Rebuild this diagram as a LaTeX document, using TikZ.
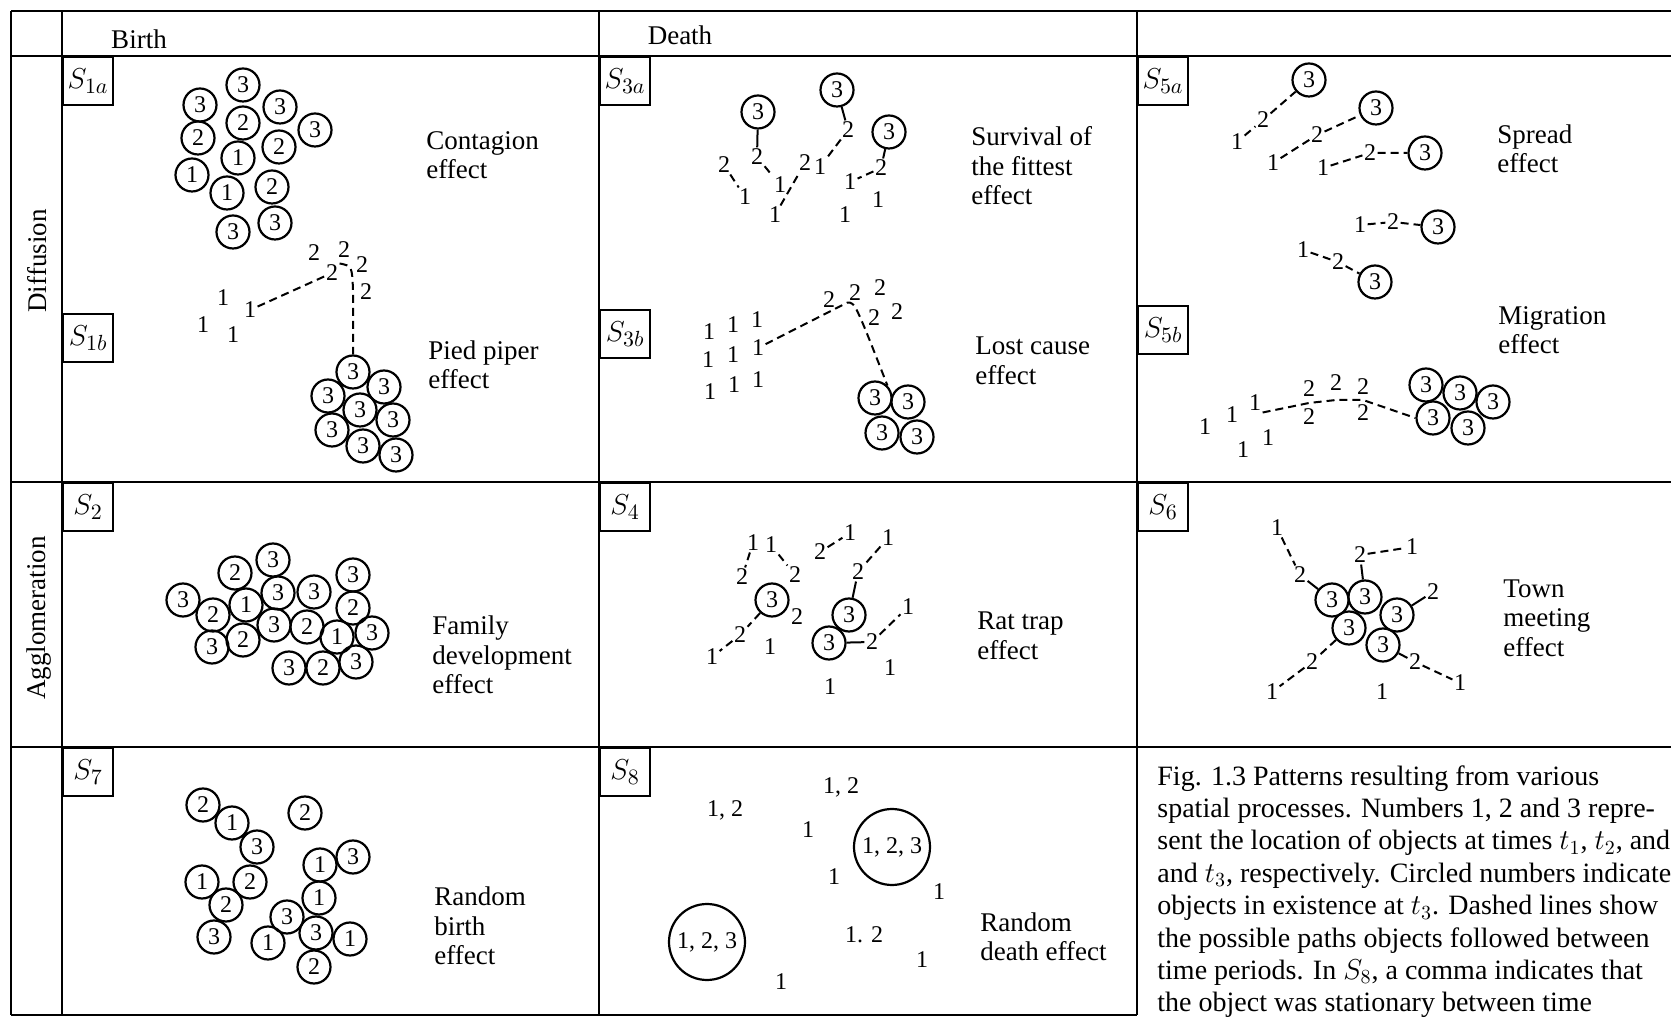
\documentclass[tikz,border=0pt]{standalone}
\usepackage{fontspec}
\setmainfont{Liberation Serif}
\usepackage{tikz}
\usetikzlibrary{shapes,arrows}
\tikzset{>={stealth}}
\tikzset{
    tablerule/.style={line width=1.3pt},
    num/.style={inner sep=0.6pt,font=\fontsize{12}{12}\selectfont},
    ring/.style={num,circle,draw,line width=1.1pt,minimum size=16.5pt,inner sep=0pt},
    bigring/.style={num,circle,draw,line width=1.1pt,minimum size=38pt,inner sep=0pt},
    tag/.style={draw,line width=1.1pt,anchor=north west,minimum width=25pt,minimum height=24pt,inner sep=0pt,font=\fontsize{15}{15}\selectfont},
    lab/.style={anchor=west,align=left,inner sep=0pt,font=\fontsize{13.5}{14.75}\selectfont},
    head/.style={font=\fontsize{13.5}{14}\selectfont},
    trail/.style={line width=1pt,dash pattern=on 4pt off 2.5pt},
    link/.style={line width=1pt},
}

\begin{document}
\begin{tikzpicture}[x=0.5pt,y=-0.5pt]
                    \useasboundingbox (0,0) rectangle (1671,1020);
                    \draw[tablerule] (11,11) -- (1671,11);
                    \draw[tablerule] (11,56) -- (1671,56);
                    \draw[tablerule] (11,482) -- (1671,482);
                    \draw[tablerule] (11,747) -- (1671,747);
                    \draw[tablerule] (11,1015) -- (1137,1015);
                    \draw[tablerule] (11,11) -- (11,1015);
                    \draw[tablerule] (62,11) -- (62,1015);
                    \draw[tablerule] (599,11) -- (599,1015);
                    \draw[tablerule] (1137,11) -- (1137,1015);
                    \node[head] (birth) at (139,39) {Birth};
                    \node[head] (death) at (680,35) {Death};
                    \node[head,rotate=90] (diffusion) at (37,261) {Diffusion};
                    \node[head,rotate=90] (agglom) at (39,618) {Agglomeration};

                    \node[tag] (tag1a) at (62,56) {$S_{1a}$};
                    \node[ring] (ca1) at (243,85) {3};
                    \node[ring] (ca2) at (200,105) {3};
                    \node[ring] (ca3) at (280,107) {3};
                    \node[ring] (ca4) at (243,123) {2};
                    \node[ring] (ca5) at (315,130) {3};
                    \node[ring] (ca6) at (198,138) {2};
                    \node[ring] (ca7) at (279,147) {2};
                    \node[ring] (ca8) at (238,158) {1};
                    \node[ring] (ca9) at (192,175) {1};
                    \node[ring] (ca10) at (227,193) {1};
                    \node[ring] (ca11) at (272,187) {2};
                    \node[ring] (ca12) at (275,223) {3};
                    \node[ring] (ca13) at (233,232) {3};
                    \node[lab] (contagion) at (426,155) {Contagion\\effect};

                    \node[tag] (tag1b) at (62,313) {$S_{1b}$};
                    \node[num] (bt1) at (314,253) {2};
                    \node[num] (bt2) at (344,250) {2};
                    \node[num] (bt3) at (362,265) {2};
                    \node[num] (bt4) at (332,273) {2};
                    \node[num] (bt5) at (366,292) {2};
                    \node[num] (bo1) at (223,298) {1};
                    \node[num] (bo2) at (250,310) {1};
                    \node[num] (bo3) at (203,325) {1};
                    \node[num] (bo4) at (233,335) {1};
                    \node[ring] (br1) at (353,372) {3};
                    \node[ring] (br2) at (384,387) {3};
                    \node[ring] (br3) at (328,396) {3};
                    \node[ring] (br4) at (360,410) {3};
                    \node[ring] (br5) at (393,420) {3};
                    \node[ring] (br6) at (332,430) {3};
                    \node[ring] (br7) at (363,446) {3};
                    \node[ring] (br8) at (396,455) {3};
                    \draw[trail] (bo2) -- (bt4);
                    \draw[trail] (bt4.north east) .. controls (352,266) .. (353,290) -- (br1);
                    \node[lab] (piper) at (428,365) {Pied piper\\effect};

                    \node[tag] (tag3a) at (599,56) {$S_{3a}$};
                    \node[ring] (cr1) at (758,112) {3};
                    \node[ring] (cr2) at (837,90) {3};
                    \node[ring] (cr3) at (889,132) {3};
                    \node[num] (ct1) at (757,157) {2};
                    \node[num] (ct2) at (724,165) {2};
                    \node[num] (ct3) at (745,197) {1};
                    \node[num] (ct4) at (780,185) {1};
                    \node[num] (ct5) at (775,215) {1};
                    \node[num] (ct6) at (805,163) {2};
                    \node[num] (ct7) at (820,167) {1};
                    \node[num] (ct8) at (848,130) {2};
                    \node[num] (ct9) at (850,182) {1};
                    \node[num] (ct10) at (881,168) {2};
                    \node[num] (ct11) at (878,200) {1};
                    \node[num] (ct12) at (845,215) {1};
                    \draw[link] (cr1) -- (ct1);
                    \draw[trail] (ct2) -- (ct3);
                    \draw[trail] (ct1) -- (ct4);
                    \draw[trail] (ct5) -- (ct6);
                    \draw[link] (cr2) -- (ct8);
                    \draw[trail] (ct8) -- (ct7);
                    \draw[link] (cr3) -- (ct10);
                    \draw[trail] (ct10) -- (ct9);
                    \node[lab] (survival) at (971,166) {Survival of\\the fittest\\effect};

                    \node[tag] (tag3b) at (599,309) {$S_{3b}$};
                    \node[num] (do1) at (709,332) {1};
                    \node[num] (do2) at (708,360) {1};
                    \node[num] (do3) at (710,392) {1};
                    \node[num] (do4) at (733,325) {1};
                    \node[num] (do5) at (733,355) {1};
                    \node[num] (do6) at (734,385) {1};
                    \node[num] (do7) at (757,320) {1};
                    \node[num] (do8) at (758,348) {1};
                    \node[num] (do9) at (758,380) {1};
                    \node[num] (dt1) at (829,300) {2};
                    \node[num] (dt2) at (855,293) {2};
                    \node[num] (dt3) at (880,288) {2};
                    \node[num] (dt4) at (874,318) {2};
                    \node[num] (dt5) at (897,312) {2};
                    \node[ring] (dr1) at (875,398) {3};
                    \node[ring] (dr2) at (908,402) {3};
                    \node[ring] (dr3) at (882,433) {3};
                    \node[ring] (dr4) at (917,437) {3};
                    \draw[trail] (do8) -- (dt2.south west) .. controls (dt2.south) .. (dr1.north east);
                    \node[lab] (lost) at (975,361) {Lost cause\\effect};

                    \node[tag] (tag5a) at (1137,56) {$S_{5a}$};
                    \node[ring] (er1) at (1309,80) {3};
                    \node[ring] (er2) at (1376,108) {3};
                    \node[ring] (er3) at (1425,153) {3};
                    \node[ring] (er4) at (1438,227) {3};
                    \node[ring] (er5) at (1375,282) {3};
                    \node[num] (et1) at (1263,120) {2};
                    \node[num] (et2) at (1317,135) {2};
                    \node[num] (et3) at (1370,153) {2};
                    \node[num] (et4) at (1393,222) {2};
                    \node[num] (et5) at (1338,262) {2};
                    \node[num] (eo1) at (1237,142) {1};
                    \node[num] (eo2) at (1273,163) {1};
                    \node[num] (eo3) at (1323,168) {1};
                    \node[num] (eo4) at (1360,225) {1};
                    \node[num] (eo5) at (1303,250) {1};
                    \foreach \i in {1,...,5}
                        \draw[trail] (eo\i) -- (et\i) -- (er\i);
                    \node[lab] (spread) at (1497,149) {Spread\\effect};
                    \node[lab] (migration) at (1498,330) {Migration\\effect};

                    \node[tag] (tag5b) at (1137,305) {$S_{5b}$};
                    \node[num] (fo1) at (1205,427) {1};
                    \node[num] (fo2) at (1232,415) {1};
                    \node[num] (fo3) at (1255,403) {1};
                    \node[num] (fo4) at (1243,450) {1};
                    \node[num] (fo5) at (1268,438) {1};
                    \node[num] (ft1) at (1309,389) {2};
                    \node[num] (ft2) at (1309,417) {2};
                    \node[num] (ft3) at (1336,383) {2};
                    \node[num] (ft4) at (1363,387) {2};
                    \node[num] (ft5) at (1363,413) {2};
                    \node[ring] (fr1) at (1426,385) {3};
                    \node[ring] (fr2) at (1460,393) {3};
                    \node[ring] (fr3) at (1493,402) {3};
                    \node[ring] (fr4) at (1433,418) {3};
                    \node[ring] (fr5) at (1468,428) {3};
                    \coordinate (fm1) at (1309,403);
                    \coordinate (fm2) at (1336,400);
                    \coordinate (fm3) at (1363,400);
                    \draw[trail] (fo3.south east) -- (fm1) -- (fm2) -- (fm3) -- (fr4.west);

                    \node[tag] (tag2) at (62,482) {$S_2$};
                    \node[ring] (g1) at (235,573) {2};
                    \node[ring] (g2) at (273,560) {3};
                    \node[ring] (g3) at (183,600) {3};
                    \node[ring] (g4) at (213,615) {2};
                    \node[ring] (g5) at (246,605) {1};
                    \node[ring] (g6) at (278,593) {3};
                    \node[ring] (g7) at (314,592) {3};
                    \node[ring] (g8) at (353,575) {3};
                    \node[ring] (g9) at (353,608) {2};
                    \node[ring] (g10) at (274,625) {3};
                    \node[ring] (g11) at (307,627) {2};
                    \node[ring] (g12) at (337,637) {1};
                    \node[ring] (g13) at (372,633) {3};
                    \node[ring] (g14) at (212,647) {3};
                    \node[ring] (g15) at (243,640) {2};
                    \node[ring] (g16) at (289,668) {3};
                    \node[ring] (g17) at (323,668) {2};
                    \node[ring] (g18) at (356,662) {3};
                    \node[lab] (family) at (432,655) {Family\\development\\effect};

                    \node[tag] (tag4) at (599,482) {$S_4$};
                    \node[num] (h1) at (753,543) {1};
                    \node[num] (h2) at (771,545) {1};
                    \node[num] (h3) at (742,577) {2};
                    \node[num] (h4) at (795,575) {2};
                    \node[ring] (hr1) at (772,600) {3};
                    \node[num] (h5) at (797,617) {2};
                    \node[num] (h6) at (740,635) {2};
                    \node[num] (h7) at (712,657) {1};
                    \node[num] (h8) at (770,647) {1};
                    \node[num] (h9) at (820,552) {2};
                    \node[num] (h10) at (850,533) {1};
                    \node[num] (h11) at (888,538) {1};
                    \node[num] (h12) at (858,572) {2};
                    \node[ring] (hr2) at (849,615) {3};
                    \node[ring] (hr3) at (829,643) {3};
                    \node[num] (h13) at (872,642) {2};
                    \node[num] (h14) at (908,607) {1};
                    \node[num] (h15) at (890,668) {1};
                    \node[num] (h16) at (830,687) {1};
                    \draw[trail] (h1) -- (h3);
                    \draw[trail] (h2) -- (h4);
                    \draw[trail] (hr1) -- (h6);
                    \draw[trail] (h6) -- (h7);
                    \draw[trail] (h9) -- (h10);
                    \draw[trail] (h11) -- (h12);
                    \draw[link] (h12) -- (hr2);
                    \draw[link] (hr3) -- (h13);
                    \draw[trail] (h13) -- (h14);
                    \node[lab] (rattrap) at (977,636) {Rat trap\\effect};

                    \node[tag] (tag6) at (1137,482) {$S_6$};
                    \node[num] (k1) at (1277,528) {1};
                    \node[num] (k2) at (1300,575) {2};
                    \node[num] (k3) at (1360,555) {2};
                    \node[num] (k4) at (1412,547) {1};
                    \node[num] (k5) at (1433,592) {2};
                    \node[ring] (kr1) at (1332,600) {3};
                    \node[ring] (kr2) at (1365,597) {3};
                    \node[ring] (kr3) at (1397,615) {3};
                    \node[ring] (kr4) at (1349,628) {3};
                    \node[ring] (kr5) at (1383,645) {3};
                    \node[num] (k6) at (1312,662) {2};
                    \node[num] (k7) at (1272,692) {1};
                    \node[num] (k8) at (1382,692) {1};
                    \node[num] (k9) at (1415,662) {2};
                    \node[num] (k10) at (1460,683) {1};
                    \draw[trail] (k1) -- (k2);
                    \draw[link] (k2) -- (kr1);
                    \draw[trail] (k3) -- (k4);
                    \draw[link] (k3) -- (kr2);
                    \draw[link] (kr3) -- (k5);
                    \draw[trail] (kr4) -- (k6);
                    \draw[trail] (k6) -- (k7);
                    \draw[link] (kr5) -- (k9);
                    \draw[trail] (k9) -- (k10);
                    \node[lab] (town) at (1503,618) {Town\\meeting\\effect};

                    \node[tag] (tag7) at (62,747) {$S_7$};
                    \node[ring] (m1) at (203,805) {2};
                    \node[ring] (m2) at (232,823) {1};
                    \node[ring] (m3) at (257,847) {3};
                    \node[ring] (m4) at (305,813) {2};
                    \node[ring] (m5) at (202,882) {1};
                    \node[ring] (m6) at (250,882) {2};
                    \node[ring] (m7) at (226,905) {2};
                    \node[ring] (m8) at (214,937) {3};
                    \node[ring] (m9) at (320,865) {1};
                    \node[ring] (m10) at (353,857) {3};
                    \node[ring] (m11) at (319,898) {1};
                    \node[ring] (m12) at (287,917) {3};
                    \node[ring] (m13) at (316,933) {3};
                    \node[ring] (m14) at (268,943) {1};
                    \node[ring] (m15) at (350,939) {1};
                    \node[ring] (m16) at (314,967) {2};
                    \node[lab] (rbirth) at (434,926) {Random\\birth\\effect};

                    \node[tag] (tag8) at (599,747) {$S_8$};
                    \node[num] (q1) at (725,810) {1, 2};
                    \node[num] (q2) at (841,787) {1, 2};
                    \node[num] (q3) at (808,830) {1};
                    \node[bigring] (qr1) at (892,847) {1, 2, 3};
                    \node[num] (q4) at (834,877) {1};
                    \node[num] (q5) at (939,892) {1};
                    \node[bigring] (qr2) at (707,942) {1, 2, 3};
                    \node[num] (q6) at (864,935) {1. 2};
                    \node[num] (q7) at (922,960) {1};
                    \node[num] (q8) at (781,982) {1};
                    \node[lab] (rdeath) at (980,937) {Random\\death effect};

                    \node[anchor=north west,align=left,inner sep=0pt,font=\fontsize{14}{16.2}\selectfont] (caption) at (1157,765)
                        {Fig. 1.3 Patterns resulting from various\\
                         spatial processes. Numbers 1, 2 and 3 repre-\\
                         sent the location of objects at times $t_1$, $t_2$, and\\
                         and $t_3$, respectively. Circled numbers indicate\\
                         objects in existence at $t_3$. Dashed lines show\\
                         the possible paths objects followed between\\
                         time periods. In $S_8$, a comma indicates that\\
                         the object was stationary between time};
                \end{tikzpicture}
\end{document}
